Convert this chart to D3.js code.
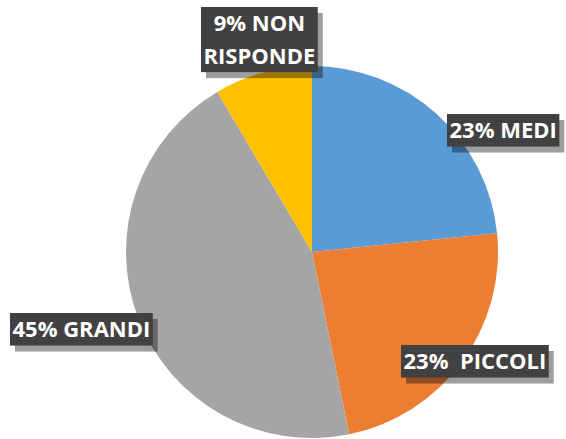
<!DOCTYPE html>
<meta charset="utf-8" />
<script src="https://d3js.org/d3.v7.min.js"></script>
<style>
  body { margin: 0; background: #fff; }
</style>
<div id="chart"></div>
<script>
  // data
  const categories = ["MEDI", "PICCOLI", "GRANDI", "NON RISPONDE"];
  const values = [23.4, 23.4, 44.7, 8.5];
  const labels = [["23% MEDI"], ["23%  PICCOLI"], ["45% GRANDI"], ["9% NON", "RISPONDE"]];
  const colors = ["#5B9BD5", "#ED7D31", "#A5A5A5", "#FFC000"];

  // where the label boxes sit (top-left corner) and text size
  const labelPos = [
    { x: 447, y: 114, size: 22 },
    { x: 401, y: 345, size: 22 },
    { x: 10, y: 313, size: 22 },
    { x: 201, y: 7, size: 22 },
  ];

  const width = 566, height = 439;
  const cx = 312, cy = 252, radius = 186;

  const svg = d3.select("#chart")
    .append("svg")
    .attr("width", width)
    .attr("height", height);

  // dotted texture for the label boxes
  const defs = svg.append("defs");
  const pat = defs.append("pattern")
    .attr("id", "dots")
    .attr("width", 4)
    .attr("height", 4)
    .attr("patternUnits", "userSpaceOnUse");
  pat.append("rect").attr("width", 4).attr("height", 4).attr("fill", "#404040");
  pat.append("rect").attr("x", 1).attr("y", 1).attr("width", 1).attr("height", 1).attr("fill", "#4c4c4c");

  const data = categories.map((c, i) => ({ name: c, value: values[i], color: colors[i], lines: labels[i] }));

  const pie = d3.pie().sort(null).value(d => d.value);
  const arc = d3.arc().innerRadius(0).outerRadius(radius);

  const g = svg.append("g").attr("transform", `translate(${cx}, ${cy})`);

  g.selectAll("path")
    .data(pie(data))
    .join("path")
    .attr("d", arc)
    .attr("fill", d => d.data.color);

  // labels
  data.forEach((d, i) => {
    const p = labelPos[i];
    const lineH = p.size * 1.48;
    const lab = svg.append("g").attr("transform", `translate(${p.x}, ${p.y})`);
    const shadow = lab.append("rect");
    const box = lab.append("rect");
    const txt = lab.append("text")
      .attr("font-family", "'Open Sans', sans-serif")
      .attr("font-weight", "bold")
      .attr("font-size", p.size)
      .attr("fill", "#fff")
      .attr("text-anchor", "middle")
      .style("white-space", "pre");
    d.lines.forEach((l, k) => {
      txt.append("tspan")
        .attr("y", lineH * k + lineH * 0.5 + p.size * 0.36)
        .text(l);
    });
    let w = 0;
    txt.selectAll("tspan").each(function () { w = Math.max(w, this.getComputedTextLength()); });
    const bw = w + 5, bh = lineH * d.lines.length;
    txt.selectAll("tspan").attr("x", bw / 2);
    shadow.attr("x", 5).attr("y", 6).attr("width", bw).attr("height", bh)
      .attr("fill", "#000").attr("opacity", 0.38);
    box.attr("width", bw).attr("height", bh).attr("fill", "url(#dots)");
  });
</script>
